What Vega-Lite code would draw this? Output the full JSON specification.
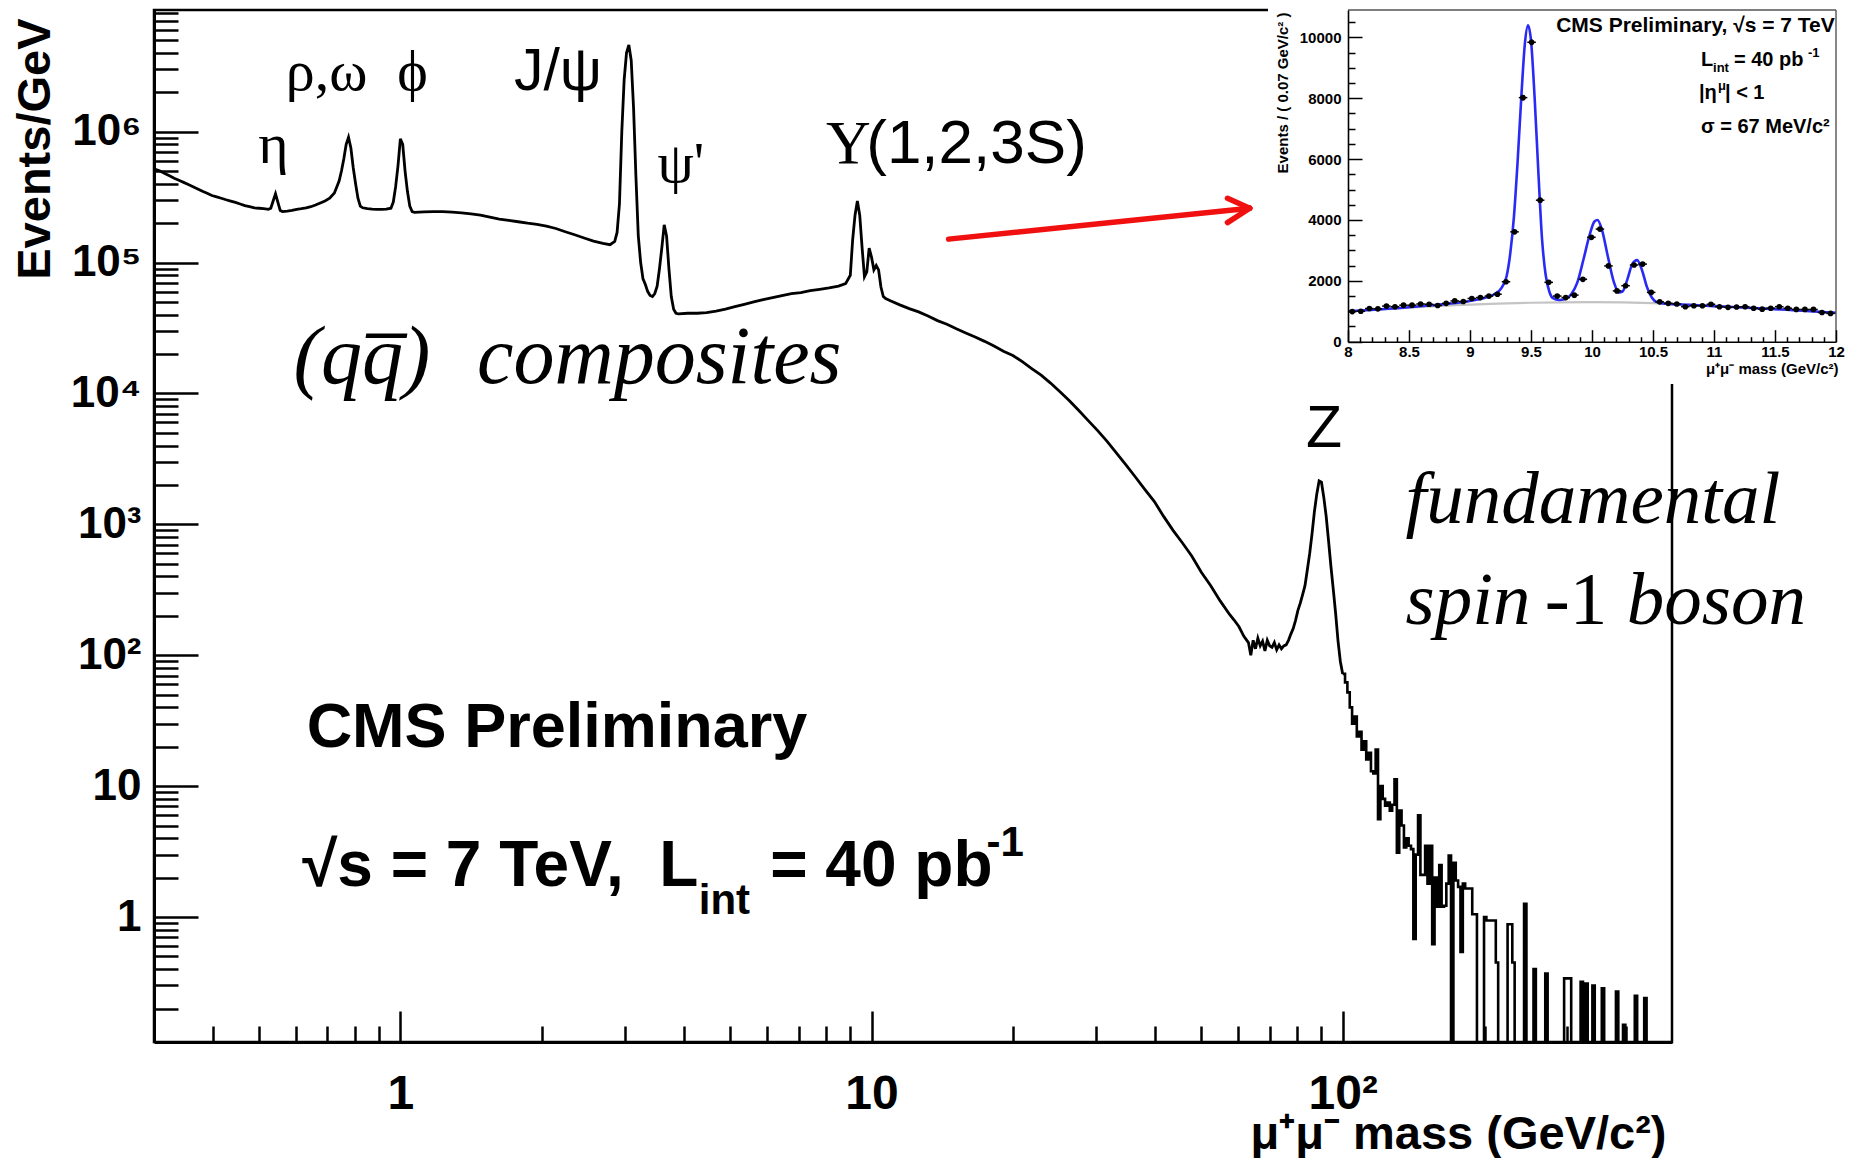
{
  "$schema": "https://vega.github.io/schema/vega-lite/v6.json",
  "width": 1518,
  "height": 1032,
  "autosize": {"type": "none"},
  "padding": {"left": 154, "top": 10, "right": 181, "bottom": 116},
  "background": "white",
  "config": {"view": {"stroke": "#000", "strokeWidth": 2.5}, "font": "Liberation Sans"},
  "datasets": {
    "hist": [
      {"m":0.3,"v":520000},{"m":0.309,"v":500000},{"m":0.3162,"v":480000},{"m":0.3236,"v":460000},{"m":0.3311,"v":440000},{"m":0.3388,"v":425000},{"m":0.3467,"v":410000},{"m":0.3548,"v":395000},{"m":0.3631,"v":380000},{"m":0.3715,"v":365000},{"m":0.3802,"v":350000},{"m":0.389,"v":338000},{"m":0.3981,"v":325000},{"m":0.4074,"v":318000},{"m":0.4169,"v":310000},{"m":0.4266,"v":302000},{"m":0.4365,"v":295000},{"m":0.4467,"v":288000},{"m":0.4571,"v":280000},{"m":0.4677,"v":272000},{"m":0.4786,"v":267000},{"m":0.4898,"v":262000},{"m":0.5012,"v":260000},{"m":0.5129,"v":258000},{"m":0.5248,"v":255000},{"m":0.5309,"v":260000},{"m":0.537,"v":295000},{"m":0.5433,"v":335000},{"m":0.5495,"v":290000},{"m":0.5559,"v":250000},{"m":0.5623,"v":245000},{"m":0.5754,"v":247000},{"m":0.5888,"v":250000},{"m":0.6026,"v":255000},{"m":0.6166,"v":258000},{"m":0.631,"v":262000},{"m":0.6457,"v":267000},{"m":0.6607,"v":275000},{"m":0.6761,"v":285000},{"m":0.6918,"v":295000},{"m":0.7079,"v":310000},{"m":0.7244,"v":340000},{"m":0.7413,"v":420000},{"m":0.7499,"v":500000},{"m":0.7586,"v":620000},{"m":0.7674,"v":800000},{"m":0.7762,"v":906000},{"m":0.7852,"v":750000},{"m":0.7943,"v":530000},{"m":0.8035,"v":400000},{"m":0.8128,"v":310000},{"m":0.8222,"v":270000},{"m":0.8318,"v":262000},{"m":0.8511,"v":258000},{"m":0.871,"v":256000},{"m":0.8913,"v":255000},{"m":0.912,"v":255000},{"m":0.9333,"v":256000},{"m":0.955,"v":260000},{"m":0.9661,"v":290000},{"m":0.9772,"v":380000},{"m":0.9886,"v":550000},{"m":1.0,"v":880000},{"m":1.0116,"v":800000},{"m":1.0233,"v":500000},{"m":1.0351,"v":350000},{"m":1.0471,"v":270000},{"m":1.0593,"v":245000},{"m":1.0715,"v":242000},{"m":1.122,"v":244000},{"m":1.1749,"v":245000},{"m":1.2303,"v":245000},{"m":1.2882,"v":243000},{"m":1.349,"v":240000},{"m":1.4125,"v":235000},{"m":1.4791,"v":230000},{"m":1.5488,"v":222000},{"m":1.6218,"v":215000},{"m":1.6982,"v":210000},{"m":1.7783,"v":205000},{"m":1.8621,"v":200000},{"m":1.9498,"v":196000},{"m":2.0417,"v":190000},{"m":2.138,"v":182000},{"m":2.2387,"v":172000},{"m":2.3442,"v":163000},{"m":2.4547,"v":154000},{"m":2.5704,"v":146000},{"m":2.6915,"v":140000},{"m":2.7861,"v":137000},{"m":2.851,"v":145000},{"m":2.884,"v":170000},{"m":2.9174,"v":280000},{"m":2.9512,"v":1000000},{"m":2.9854,"v":2500000},{"m":3.02,"v":4000000},{"m":3.0549,"v":4600000},{"m":3.0903,"v":3500000},{"m":3.1261,"v":1500000},{"m":3.1623,"v":450000},{"m":3.1989,"v":160000},{"m":3.2359,"v":100000},{"m":3.2734,"v":75000},{"m":3.3113,"v":68000},{"m":3.3497,"v":60000},{"m":3.3884,"v":56000},{"m":3.4277,"v":55000},{"m":3.4674,"v":58000},{"m":3.5075,"v":66000},{"m":3.5481,"v":90000},{"m":3.5892,"v":130000},{"m":3.6308,"v":194000},{"m":3.6728,"v":160000},{"m":3.7154,"v":90000},{"m":3.7584,"v":55000},{"m":3.8019,"v":44000},{"m":3.8459,"v":41000},{"m":3.8905,"v":40500},{"m":4.0738,"v":41000},{"m":4.2658,"v":41000},{"m":4.4668,"v":41500},{"m":4.6774,"v":42500},{"m":4.8978,"v":44000},{"m":5.1286,"v":46000},{"m":5.3703,"v":48000},{"m":5.6234,"v":50000},{"m":5.8884,"v":52000},{"m":6.166,"v":54000},{"m":6.4565,"v":56000},{"m":6.7608,"v":58000},{"m":7.0795,"v":59000},{"m":7.4131,"v":61000},{"m":7.7625,"v":62500},{"m":8.1283,"v":64000},{"m":8.5114,"v":66000},{"m":8.8105,"v":69000},{"m":9.0157,"v":80000},{"m":9.1201,"v":150000},{"m":9.2257,"v":230000},{"m":9.3325,"v":295000},{"m":9.4406,"v":230000},{"m":9.5499,"v":130000},{"m":9.6605,"v":78000},{"m":9.7724,"v":85000},{"m":9.8855,"v":129000},{"m":10.0,"v":110000},{"m":10.116,"v":88000},{"m":10.233,"v":95000},{"m":10.351,"v":88000},{"m":10.471,"v":65000},{"m":10.593,"v":55000},{"m":10.715,"v":53000},{"m":10.965,"v":51000},{"m":11.482,"v":47500},{"m":12.023,"v":44500},{"m":12.589,"v":42000},{"m":13.183,"v":39000},{"m":13.804,"v":36000},{"m":14.454,"v":33800},{"m":15.136,"v":31200},{"m":15.849,"v":29000},{"m":16.596,"v":27000},{"m":17.378,"v":25000},{"m":18.197,"v":23000},{"m":19.055,"v":21000},{"m":19.953,"v":19500},{"m":20.893,"v":17500},{"m":21.878,"v":15500},{"m":22.909,"v":13800},{"m":23.988,"v":12000},{"m":25.119,"v":10300},{"m":26.303,"v":8800},{"m":27.542,"v":7400},{"m":28.84,"v":6200},{"m":30.2,"v":5200},{"m":31.623,"v":4300},{"m":33.113,"v":3500},{"m":34.674,"v":2850},{"m":36.308,"v":2300},{"m":38.019,"v":1850},{"m":39.811,"v":1500},{"m":41.687,"v":1150},{"m":43.652,"v":900},{"m":45.709,"v":720},{"m":47.863,"v":570},{"m":50.119,"v":430},{"m":52.481,"v":340},{"m":54.954,"v":260},{"m":57.544,"v":205},{"m":58.884,"v":185},{"m":60.256,"v":165},{"m":61.66,"v":140},{"m":63.096,"v":125},{"m":63.826,"v":100},{"m":64.565,"v":130},{"m":65.313,"v":112},{"m":66.069,"v":135},{"m":66.834,"v":118},{"m":67.608,"v":128},{"m":68.391,"v":108},{"m":69.183,"v":130},{"m":69.984,"v":118},{"m":70.795,"v":115},{"m":71.614,"v":125},{"m":72.444,"v":110},{"m":73.282,"v":120},{"m":74.131,"v":112},{"m":74.989,"v":118},{"m":75.858,"v":120},{"m":76.736,"v":130},{"m":77.625,"v":145},{"m":78.524,"v":160},{"m":79.433,"v":185},{"m":80.353,"v":220},{"m":81.283,"v":250},{"m":82.224,"v":290},{"m":83.176,"v":340},{"m":84.14,"v":450},{"m":85.114,"v":600},{"m":86.099,"v":850},{"m":87.096,"v":1250},{"m":88.105,"v":1700},{"m":89.125,"v":2150},{"m":90.157,"v":2100},{"m":91.201,"v":1600},{"m":92.257,"v":1150},{"m":93.325,"v":750},{"m":94.406,"v":480},{"m":95.499,"v":320},{"m":96.605,"v":210},{"m":97.724,"v":130},{"m":98.855,"v":90},{"m":100,"v":72},{"m":101.16,"v":62},{"m":102.33,"v":52},{"m":103.51,"v":40},{"m":104.71,"v":30},{"m":105.93,"v":34},{"m":107.15,"v":24},{"m":108.39,"v":26},{"m":109.65,"v":19},{"m":110.92,"v":22},{"m":112.2,"v":16},{"m":113.5,"v":18},{"m":114.82,"v":13},{"m":116.14,"v":12.5},{"m":117.49,"v":19},{"m":118.85,"v":5.6},{"m":120.23,"v":10},{"m":121.62,"v":8},{"m":123.03,"v":7.1},{"m":124.45,"v":7.5},{"m":125.89,"v":6.5},{"m":127.35,"v":7.2},{"m":128.82,"v":11.3},{"m":130.32,"v":3.1},{"m":131.83,"v":6.5},{"m":133.35,"v":5},{"m":134.9,"v":3.4},{"m":136.46,"v":4},{"m":138.04,"v":3.5},{"m":139.64,"v":3.3},{"m":141.25,"v":0.68},{"m":142.89,"v":3},{"m":144.54,"v":6},{"m":146.22,"v":2.1},{"m":147.91,"v":2.1},{"m":149.62,"v":3.5},{"m":151.36,"v":1.8},{"m":153.11,"v":3.5},{"m":154.88,"v":0.62},{"m":156.68,"v":2.0},{"m":158.49,"v":1.2},{"m":160.32,"v":2.5},{"m":162.18,"v":1.2},{"m":164.06,"v":1.22},{"m":165.96,"v":1.8},{"m":167.88,"v":2.95},{"m":169.82,"v":0.05},{"m":171.79,"v":2.6},{"m":173.78,"v":1.9},{"m":175.79,"v":1.7},{"m":177.83,"v":0.54},{"m":179.89,"v":1.8},{"m":181.97,"v":1.65},{"m":188.36,"v":1.05},{"m":192.75,"v":0.05},{"m":199.53,"v":1.0},{"m":201.84,"v":0.94},{"m":211.35,"v":0.45},{"m":213.8,"v":0.05},{"m":223.87,"v":0.88},{"m":229.09,"v":0.45},{"m":231.74,"v":0.05},{"m":242.66,"v":1.26},{"m":245.47,"v":0.05},{"m":254.1,"v":0.4},{"m":257.04,"v":0.05},{"m":269.15,"v":0.37},{"m":272.27,"v":0.05},{"m":295.12,"v":0.34},{"m":305.49,"v":0.05},{"m":319.89,"v":0.32},{"m":323.59,"v":0.05},{"m":327.34,"v":0.31},{"m":331.13,"v":0.05},{"m":338.84,"v":0.3},{"m":342.77,"v":0.05},{"m":354.81,"v":0.285},{"m":358.92,"v":0.05},{"m":380.19,"v":0.27},{"m":384.59,"v":0.05},{"m":393.55,"v":0.15},{"m":398.11,"v":0.05},{"m":416.87,"v":0.25},{"m":421.7,"v":0.05},{"m":436.52,"v":0.24},{"m":441.57,"v":0.05},{"m":500,"v":0.05}
    ],
    "upsilonData": [
      {"c":8.035,"v":990,"e":31},{"c":8.105,"v":1000,"e":32},{"c":8.175,"v":1090,"e":33},{"c":8.245,"v":1080,"e":33},{"c":8.315,"v":1170,"e":34},{"c":8.385,"v":1150,"e":34},{"c":8.455,"v":1200,"e":35},{"c":8.525,"v":1200,"e":35},{"c":8.595,"v":1240,"e":35},{"c":8.665,"v":1230,"e":35},{"c":8.735,"v":1190,"e":34},{"c":8.805,"v":1260,"e":35},{"c":8.875,"v":1340,"e":37},{"c":8.945,"v":1320,"e":36},{"c":9.015,"v":1420,"e":38},{"c":9.085,"v":1450,"e":38},{"c":9.155,"v":1500,"e":39},{"c":9.225,"v":1560,"e":39},{"c":9.295,"v":1970,"e":44},{"c":9.365,"v":3610,"e":60},{"c":9.435,"v":8020,"e":90},{"c":9.505,"v":9840,"e":99},{"c":9.575,"v":4650,"e":68},{"c":9.645,"v":1950,"e":44},{"c":9.715,"v":1500,"e":39},{"c":9.785,"v":1450,"e":38},{"c":9.855,"v":1530,"e":39},{"c":9.925,"v":2050,"e":45},{"c":9.995,"v":3430,"e":59},{"c":10.065,"v":3700,"e":61},{"c":10.135,"v":2490,"e":50},{"c":10.205,"v":1670,"e":41},{"c":10.275,"v":1840,"e":43},{"c":10.345,"v":2520,"e":50},{"c":10.415,"v":2550,"e":50},{"c":10.485,"v":1620,"e":40},{"c":10.555,"v":1310,"e":36},{"c":10.625,"v":1260,"e":35},{"c":10.695,"v":1240,"e":35},{"c":10.765,"v":1150,"e":34},{"c":10.835,"v":1180,"e":34},{"c":10.905,"v":1180,"e":34},{"c":10.975,"v":1230,"e":35},{"c":11.045,"v":1150,"e":34},{"c":11.115,"v":1130,"e":34},{"c":11.185,"v":1140,"e":34},{"c":11.255,"v":1150,"e":34},{"c":11.325,"v":1100,"e":33},{"c":11.395,"v":1070,"e":33},{"c":11.465,"v":1100,"e":33},{"c":11.535,"v":1150,"e":34},{"c":11.605,"v":1100,"e":33},{"c":11.675,"v":1060,"e":33},{"c":11.745,"v":1060,"e":33},{"c":11.815,"v":1060,"e":33},{"c":11.885,"v":960,"e":31},{"c":11.955,"v":930,"e":30}
    ],
    "fit": [
      {"m":8.0,"v":1000},{"m":8.25,"v":1060},{"m":8.5,"v":1130},{"m":8.75,"v":1220},{"m":9.0,"v":1340},{"m":9.1,"v":1420},{"m":9.2,"v":1560},{"m":9.26,"v":1780},{"m":9.3,"v":2150},{"m":9.33,"v":2900},{"m":9.36,"v":4100},{"m":9.39,"v":5900},{"m":9.42,"v":8000},{"m":9.45,"v":9800},{"m":9.475,"v":10400},{"m":9.5,"v":9900},{"m":9.53,"v":8000},{"m":9.56,"v":5600},{"m":9.59,"v":3400},{"m":9.62,"v":2200},{"m":9.65,"v":1650},{"m":9.68,"v":1430},{"m":9.73,"v":1370},{"m":9.78,"v":1400},{"m":9.83,"v":1560},{"m":9.88,"v":1950},{"m":9.93,"v":2700},{"m":9.98,"v":3500},{"m":10.02,"v":3950},{"m":10.045,"v":4000},{"m":10.08,"v":3700},{"m":10.13,"v":2800},{"m":10.18,"v":1950},{"m":10.22,"v":1620},{"m":10.25,"v":1650},{"m":10.29,"v":2050},{"m":10.33,"v":2550},{"m":10.37,"v":2680},{"m":10.41,"v":2350},{"m":10.45,"v":1800},{"m":10.49,"v":1450},{"m":10.53,"v":1300},{"m":10.6,"v":1250},{"m":10.8,"v":1210},{"m":11.0,"v":1170},{"m":11.5,"v":1070},{"m":12.0,"v":950}
    ],
    "bkg": [
      {"m":8.0,"v":990},{"m":8.5,"v":1120},{"m":9.0,"v":1220},{"m":9.5,"v":1280},{"m":10.0,"v":1300},{"m":10.5,"v":1270},{"m":11.0,"v":1170},{"m":11.5,"v":1070},{"m":12.0,"v":950}
    ]
  },
  "layer": [
    {
      "layer": [
        {
          "data": {"name": "hist"},
          "transform": [{"filter": "datum.m <= 100"}],
          "mark": {"type": "line", "interpolate": "linear", "color": "#000", "strokeWidth": 2.8, "clip": true},
          "encoding": {
            "x": {"field": "m", "type": "quantitative", "scale": {"type": "log", "domain": [0.3, 500], "nice": false},
              "axis": {"orient": "bottom", "values": [1, 10, 100], "labelExpr": "datum.value == 1 ? '1' : datum.value == 10 ? '10' : '10²'",
                "tickSize": -31, "tickWidth": 2.5, "tickColor": "#000", "domainColor": "#000", "domainWidth": 3, "grid": false,
                "labelPadding": 59, "labelFont": "Liberation Sans", "labelFontWeight": "bold", "labelFontSize": 48, "labelColor": "#000",
                "labelOverlap": false, "labelFlush": false, "labelBound": false,
                "title": "μ⁺μ⁻ mass (GeV/c²)", "titleFont": "Liberation Sans", "titleFontWeight": "bold", "titleFontSize": 47, "titleColor": "#000",
                "titleAlign": "right", "titleBaseline": "middle", "titleAnchor": "end", "titleX": 1512, "titleY": 92}},
            "y": {"field": "v", "type": "quantitative", "scale": {"type": "log", "domain": [0.111, 8500000], "nice": false},
              "axis": {"orient": "left", "values": [1, 10, 100, 1000, 10000, 100000, 1000000],
                "labelExpr": "datum.value == 1 ? '1' : datum.value == 10 ? '10' : datum.value == 100 ? '10²' : datum.value == 1000 ? '10³' : datum.value == 10000 ? '10⁴' : datum.value == 100000 ? '10⁵' : '10⁶'",
                "tickSize": -44, "tickWidth": 2.5, "tickColor": "#000", "domainColor": "#000", "domainWidth": 3, "grid": false,
                "labelPadding": 57, "labelFont": "Liberation Sans", "labelFontWeight": "bold", "labelFontSize": 44, "labelColor": "#000",
                "labelOverlap": false, "labelBound": false, "labelFlush": false,
                "title": "Events/GeV", "titleFont": "Liberation Sans", "titleFontWeight": "bold", "titleFontSize": 47, "titleColor": "#000",
                "titleAngle": 270, "titleAlign": "right", "titleBaseline": "middle", "titleAnchor": "end", "titleX": -119, "titleY": 8}}
          }
        },
        {
          "data": {"name": "hist"},
          "transform": [{"filter": "datum.m >= 100"}],
          "mark": {"type": "line", "interpolate": "step-after", "color": "#000", "strokeWidth": 2.6, "clip": true},
          "encoding": {
            "x": {"field": "m", "type": "quantitative", "scale": {"type": "log", "domain": [0.3, 500], "nice": false}, "axis": null},
            "y": {"field": "v", "type": "quantitative", "scale": {"type": "log", "domain": [0.111, 8500000], "nice": false}, "axis": null}
          }
        },
        {
          "data": {"values": [
            {"x1": 14.57, "y1": 151000, "x2": 63.5, "y2": 260000},
            {"x1": 56.95, "y1": 310000, "x2": 63.5, "y2": 260000},
            {"x1": 56.95, "y1": 202000, "x2": 63.5, "y2": 260000}
          ]},
          "mark": {"type": "rule", "color": "#f01010", "strokeWidth": 5.5, "strokeCap": "round"},
          "encoding": {
            "x": {"field": "x1", "type": "quantitative", "scale": {"type": "log", "domain": [0.3, 500], "nice": false},
              "axis": {"orient": "bottom", "values": [0.4,0.5,0.6,0.7,0.8,0.9,2,3,4,5,6,7,8,9,20,30,40,50,60,70,80,90,200,300,400],
                "labels": false, "domain": false, "grid": false, "tickSize": -16, "tickWidth": 2.5, "tickColor": "#000", "title": null}},
            "y": {"field": "y1", "type": "quantitative", "scale": {"type": "log", "domain": [0.111, 8500000], "nice": false},
              "axis": {"orient": "left", "values": [0.2,0.3,0.4,0.5,0.6,0.7,0.8,0.9,2,3,4,5,6,7,8,9,20,30,40,50,60,70,80,90,200,300,400,500,600,700,800,900,2000,3000,4000,5000,6000,7000,8000,9000,20000,30000,40000,50000,60000,70000,80000,90000,200000,300000,400000,500000,600000,700000,800000,900000,2000000,3000000,4000000,5000000,6000000,7000000,8000000],
                "labels": false, "domain": false, "grid": false, "tickSize": -24, "tickWidth": 2.5, "tickColor": "#000", "title": null}},
            "x2": {"field": "x2"},
            "y2": {"field": "y2"}
          }
        },
        {
          "data": {"values": [
            {"m": 0.538, "v": 577000, "t": "η"},
            {"m": 0.697, "v": 2080000, "t": "ρ,ω"},
            {"m": 1.061, "v": 2080000, "t": "ϕ"},
            {"m": 3.94, "v": 413000, "t": "ψ'"}
          ]},
          "mark": {"type": "text", "font": "Liberation Serif", "fontSize": 58, "align": "center", "baseline": "alphabetic", "color": "#000"},
          "encoding": {
            "x": {"field": "m", "type": "quantitative", "scale": {"type": "log", "domain": [0.3, 500], "nice": false}, "axis": null},
            "y": {"field": "v", "type": "quantitative", "scale": {"type": "log", "domain": [0.111, 8500000], "nice": false}, "axis": null},
            "text": {"field": "t"}
          }
        },
        {
          "data": {"values": [
            {"m": 2.16, "v": 2080000, "t": "J/ψ"},
            {"m": 91.3, "v": 3926, "t": "Z"}
          ]},
          "mark": {"type": "text", "font": "Liberation Sans", "fontSize": 59, "align": "center", "baseline": "alphabetic", "color": "#000"},
          "encoding": {
            "x": {"field": "m", "type": "quantitative", "scale": {"type": "log", "domain": [0.3, 500], "nice": false}, "axis": null},
            "y": {"field": "v", "type": "quantitative", "scale": {"type": "log", "domain": [0.111, 8500000], "nice": false}, "axis": null},
            "text": {"field": "t"}
          }
        },
        {
          "data": {"values": [{"m": 8.004, "v": 577000, "t": "Υ"}]},
          "mark": {"type": "text", "font": "Liberation Serif", "fontSize": 62, "align": "left", "baseline": "alphabetic", "color": "#000"},
          "encoding": {
            "x": {"field": "m", "type": "quantitative", "scale": {"type": "log", "domain": [0.3, 500], "nice": false}, "axis": null},
            "y": {"field": "v", "type": "quantitative", "scale": {"type": "log", "domain": [0.111, 8500000], "nice": false}, "axis": null},
            "text": {"field": "t"}
          }
        },
        {
          "data": {"values": [{"m": 9.745, "v": 577000, "t": "(1,2,3S)"}]},
          "mark": {"type": "text", "font": "Liberation Sans", "fontSize": 62, "align": "left", "baseline": "alphabetic", "color": "#000"},
          "encoding": {
            "x": {"field": "m", "type": "quantitative", "scale": {"type": "log", "domain": [0.3, 500], "nice": false}, "axis": null},
            "y": {"field": "v", "type": "quantitative", "scale": {"type": "log", "domain": [0.111, 8500000], "nice": false}, "axis": null},
            "text": {"field": "t"}
          }
        },
        {
          "data": {"values": [
            {"m": 0.5935, "v": 12100, "t": "(qq̅)", "s": 82},
            {"m": 1.455, "v": 12100, "t": "composites", "s": 82},
            {"m": 135.9, "v": 1033, "t": "fundamental", "s": 75},
            {"m": 135.9, "v": 172, "t": "spin", "s": 75},
            {"m": 400.9, "v": 172, "t": "boson", "s": 75}
          ]},
          "mark": {"type": "text", "font": "Liberation Serif", "fontStyle": "italic", "align": "left", "baseline": "alphabetic", "color": "#000"},
          "encoding": {
            "x": {"field": "m", "type": "quantitative", "scale": {"type": "log", "domain": [0.3, 500], "nice": false}, "axis": null},
            "y": {"field": "v", "type": "quantitative", "scale": {"type": "log", "domain": [0.111, 8500000], "nice": false}, "axis": null},
            "text": {"field": "t"},
            "size": {"field": "s", "type": "quantitative", "scale": null}
          }
        },
        {
          "data": {"values": [{"m": 268.5, "v": 172, "t": "-1"}]},
          "mark": {"type": "text", "font": "Liberation Serif", "fontSize": 75, "align": "left", "baseline": "alphabetic", "color": "#000"},
          "encoding": {
            "x": {"field": "m", "type": "quantitative", "scale": {"type": "log", "domain": [0.3, 500], "nice": false}, "axis": null},
            "y": {"field": "v", "type": "quantitative", "scale": {"type": "log", "domain": [0.111, 8500000], "nice": false}, "axis": null},
            "text": {"field": "t"}
          }
        },
        {
          "data": {"values": [
            {"m": 0.6325, "v": 19.8, "t": "CMS Preliminary", "s": 63},
            {"m": 0.619, "v": 1.733, "t": "√s = 7 TeV,\u00a0\u00a0L", "s": 64},
            {"m": 6.095, "v": 1.733, "t": "= 40 pb", "s": 64},
            {"m": 4.298, "v": 1.054, "t": "int", "s": 42},
            {"m": 17.54, "v": 2.92, "t": "-1", "s": 42}
          ]},
          "mark": {"type": "text", "font": "Liberation Sans", "fontWeight": "bold", "align": "left", "baseline": "alphabetic", "color": "#000"},
          "encoding": {
            "x": {"field": "m", "type": "quantitative", "scale": {"type": "log", "domain": [0.3, 500], "nice": false}, "axis": null},
            "y": {"field": "v", "type": "quantitative", "scale": {"type": "log", "domain": [0.111, 8500000], "nice": false}, "axis": null},
            "text": {"field": "t"},
            "size": {"field": "s", "type": "quantitative", "scale": null}
          }
        }
      ],
      "resolve": {"axis": {"x": "independent", "y": "independent"}}
    },
    {
      "layer": [
        {
          "data": {"values": [{"x1": 7.344, "x2": 12.3, "y1": -1390, "y2": 11400}]},
          "mark": {"type": "rect", "fill": "white", "stroke": null},
          "encoding": {
            "x": {"field": "x1", "type": "quantitative", "scale": {"domain": [8, 12], "range": [1194, 1682], "nice": false, "zero": false}, "axis": null},
            "x2": {"field": "x2"},
            "y": {"field": "y1", "type": "quantitative", "scale": {"domain": [0, 10900], "range": [331.7, 0], "nice": false, "zero": false}, "axis": null},
            "y2": {"field": "y2"}
          }
        },
        {
          "data": {"name": "bkg"},
          "mark": {"type": "line", "interpolate": "monotone", "color": "#c4c4c4", "strokeWidth": 2.2},
          "encoding": {
            "x": {"field": "m", "type": "quantitative", "scale": {"domain": [8, 12], "range": [1194, 1682], "nice": false, "zero": false},
              "axis": {"orient": "bottom", "offset": -700.3, "zindex": 1, "values": [8.1,8.2,8.3,8.4,8.6,8.7,8.8,8.9,9.1,9.2,9.3,9.4,9.6,9.7,9.8,9.9,10.1,10.2,10.3,10.4,10.6,10.7,10.8,10.9,11.1,11.2,11.3,11.4,11.6,11.7,11.8,11.9],
                "labels": false, "domain": false, "grid": false, "tickSize": -5, "tickWidth": 1.5, "tickColor": "#000", "title": null}},
            "y": {"field": "v", "type": "quantitative", "scale": {"domain": [0, 10900], "range": [331.7, 0], "nice": false, "zero": false},
              "axis": {"orient": "left", "offset": -1194, "zindex": 1, "values": [500,1000,1500,2500,3000,3500,4500,5000,5500,6500,7000,7500,8500,9000,9500,10500],
                "labels": false, "domain": false, "grid": false, "tickSize": -7, "tickWidth": 1.5, "tickColor": "#000", "title": null}}
          }
        },
        {
          "data": {"name": "fit"},
          "mark": {"type": "line", "interpolate": "monotone", "color": "#2a2af5", "strokeWidth": 2.6},
          "encoding": {
            "x": {"field": "m", "type": "quantitative", "scale": {"domain": [8, 12], "range": [1194, 1682], "nice": false, "zero": false},
              "axis": {"orient": "bottom", "offset": -700.3, "zindex": 1, "values": [8, 8.5, 9, 9.5, 10, 10.5, 11, 11.5, 12], "format": "~g",
                "domainColor": "#000", "domainWidth": 1.6, "grid": false, "tickSize": -12, "tickWidth": 1.5, "tickColor": "#000",
                "labelPadding": 15, "labelFont": "Liberation Sans", "labelFontWeight": "bold", "labelFontSize": 15, "labelColor": "#000",
                "labelOverlap": false, "labelFlush": false, "labelBound": false,
                "title": "μ⁺μ⁻ mass (GeV/c²)", "titleFont": "Liberation Sans", "titleFontWeight": "bold", "titleFontSize": 15, "titleColor": "#000",
                "titleAlign": "right", "titleBaseline": "middle", "titleAnchor": "end", "titleX": 1684, "titleY": 27}},
            "y": {"field": "v", "type": "quantitative", "scale": {"domain": [0, 10900], "range": [331.7, 0], "nice": false, "zero": false},
              "axis": {"orient": "left", "offset": -1194, "zindex": 1, "values": [0, 2000, 4000, 6000, 8000, 10000], "format": "d",
                "domainColor": "#000", "domainWidth": 1.6, "grid": false, "tickSize": -14, "tickWidth": 1.5, "tickColor": "#000",
                "labelPadding": 21, "labelFont": "Liberation Sans", "labelFontWeight": "bold", "labelFontSize": 15, "labelColor": "#000",
                "labelOverlap": false, "labelFlush": false, "labelBound": false,
                "title": "Events / ( 0.07 GeV/c² )", "titleFont": "Liberation Sans", "titleFontWeight": "bold", "titleFontSize": 15, "titleColor": "#000",
                "titleAngle": 270, "titleAlign": "right", "titleBaseline": "middle", "titleAnchor": "end", "titleX": -66, "titleY": 2}}
          }
        },
        {
          "data": {"name": "upsilonData"},
          "transform": [{"calculate": "datum.c - 0.035", "as": "lo"}, {"calculate": "datum.c + 0.035", "as": "hi"}],
          "mark": {"type": "rule", "color": "#000", "strokeWidth": 1.5},
          "encoding": {
            "x": {"field": "lo", "type": "quantitative", "scale": {"domain": [8, 12], "range": [1194, 1682], "nice": false, "zero": false}, "axis": null},
            "x2": {"field": "hi"},
            "y": {"field": "v", "type": "quantitative", "scale": {"domain": [0, 10900], "range": [331.7, 0], "nice": false, "zero": false}, "axis": null}
          }
        },
        {
          "data": {"name": "upsilonData"},
          "transform": [{"calculate": "datum.v - datum.e", "as": "vlo"}, {"calculate": "datum.v + datum.e", "as": "vhi"}],
          "mark": {"type": "rule", "color": "#000", "strokeWidth": 1.5},
          "encoding": {
            "x": {"field": "c", "type": "quantitative", "scale": {"domain": [8, 12], "range": [1194, 1682], "nice": false, "zero": false}, "axis": null},
            "y": {"field": "vlo", "type": "quantitative", "scale": {"domain": [0, 10900], "range": [331.7, 0], "nice": false, "zero": false}, "axis": null},
            "y2": {"field": "vhi"}
          }
        },
        {
          "data": {"name": "upsilonData"},
          "mark": {"type": "circle", "color": "#000", "opacity": 1, "size": 32},
          "encoding": {
            "x": {"field": "c", "type": "quantitative", "scale": {"domain": [8, 12], "range": [1194, 1682], "nice": false, "zero": false}, "axis": null},
            "y": {"field": "v", "type": "quantitative", "scale": {"domain": [0, 10900], "range": [331.7, 0], "nice": false, "zero": false}, "axis": null}
          }
        },
        {
          "data": {"values": [
            {"x1": 8, "x2": 12, "y1": 10900, "y2": 10900},
            {"x1": 12, "x2": 12, "y1": 0, "y2": 10900}
          ]},
          "mark": {"type": "rule", "color": "#555", "strokeWidth": 1.4},
          "encoding": {
            "x": {"field": "x1", "type": "quantitative", "scale": {"domain": [8, 12], "range": [1194, 1682], "nice": false, "zero": false}, "axis": null},
            "x2": {"field": "x2"},
            "y": {"field": "y1", "type": "quantitative", "scale": {"domain": [0, 10900], "range": [331.7, 0], "nice": false, "zero": false}, "axis": null},
            "y2": {"field": "y2"}
          }
        },
        {
          "data": {"values": [{"m": 11.99, "v": 10371, "t": "CMS Preliminary, √s = 7 TeV"}]},
          "mark": {"type": "text", "font": "Liberation Sans", "fontWeight": "bold", "fontSize": 21, "align": "right", "baseline": "middle", "color": "#000"},
          "encoding": {
            "x": {"field": "m", "type": "quantitative", "scale": {"domain": [8, 12], "range": [1194, 1682], "nice": false, "zero": false}, "axis": null},
            "y": {"field": "v", "type": "quantitative", "scale": {"domain": [0, 10900], "range": [331.7, 0], "nice": false, "zero": false}, "axis": null},
            "text": {"field": "t"}
          }
        },
        {
          "data": {"values": [
            {"m": 10.893, "v": 9254, "t": "L", "s": 20},
            {"m": 10.992, "v": 8992, "t": "int", "s": 13},
            {"m": 11.164, "v": 9254, "t": "= 40 pb", "s": 20},
            {"m": 11.77, "v": 9484, "t": "-1", "s": 13},
            {"m": 10.877, "v": 8170, "t": "|η", "s": 20},
            {"m": 11.033, "v": 8400, "t": "μ", "s": 13},
            {"m": 11.09, "v": 8170, "t": "| < 1", "s": 20},
            {"m": 10.893, "v": 7053, "t": "σ = 67 MeV/c²", "s": 20}
          ]},
          "mark": {"type": "text", "font": "Liberation Sans", "fontWeight": "bold", "align": "left", "baseline": "middle", "color": "#000"},
          "encoding": {
            "x": {"field": "m", "type": "quantitative", "scale": {"domain": [8, 12], "range": [1194, 1682], "nice": false, "zero": false}, "axis": null},
            "y": {"field": "v", "type": "quantitative", "scale": {"domain": [0, 10900], "range": [331.7, 0], "nice": false, "zero": false}, "axis": null},
            "text": {"field": "t"},
            "size": {"field": "s", "type": "quantitative", "scale": null}
          }
        }
      ],
      "resolve": {"axis": {"x": "independent", "y": "independent"}}
    }
  ],
  "resolve": {"scale": {"x": "independent", "y": "independent"}, "axis": {"x": "independent", "y": "independent"}}
}
